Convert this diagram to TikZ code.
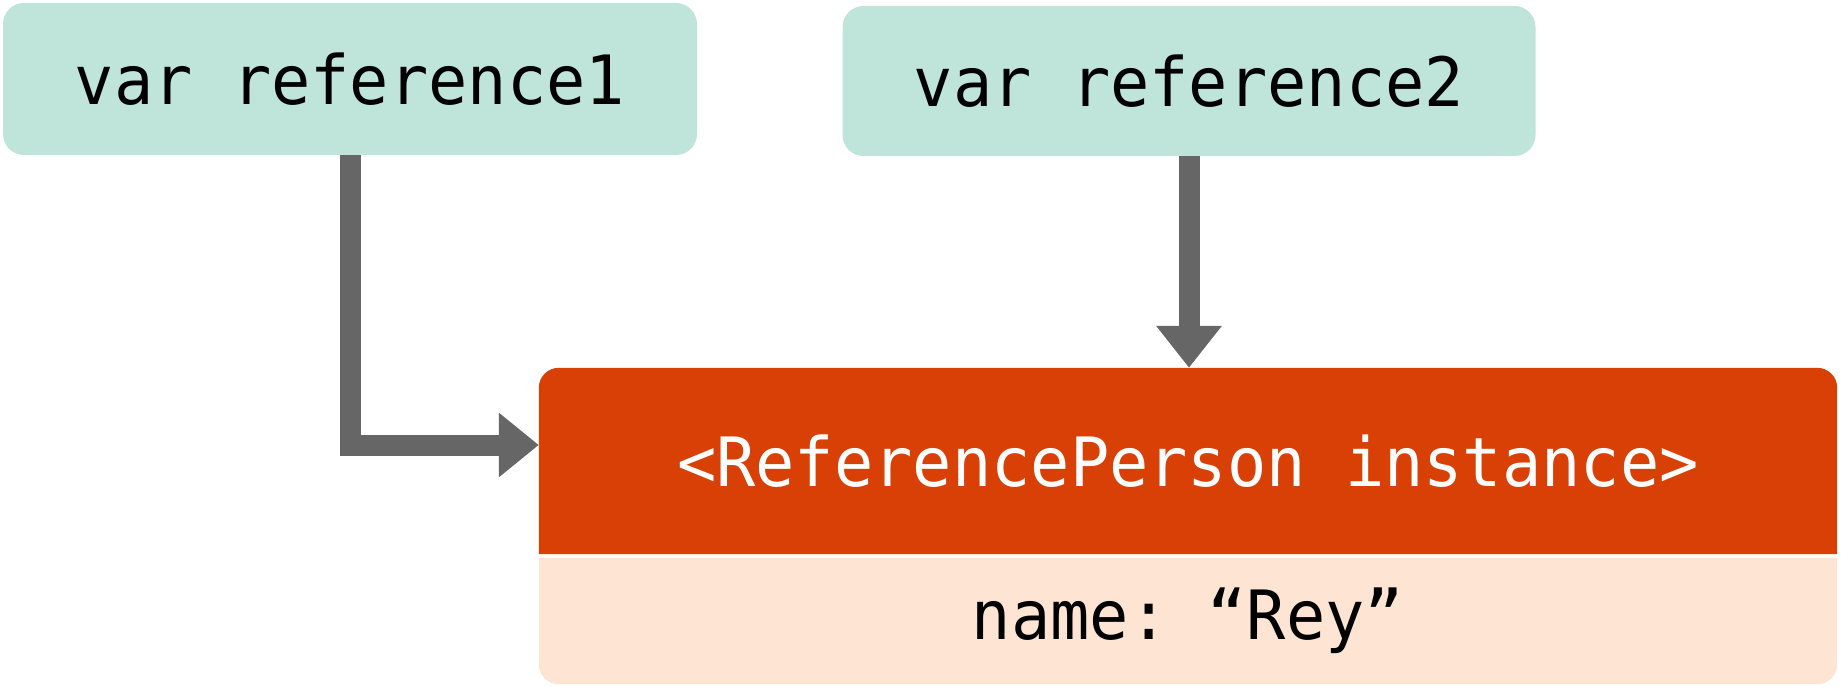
\documentclass[tikz,border=0pt]{standalone}
\usepackage{fontspec}
\setmonofont[FakeStretch=0.96]{DejaVu Sans Mono}
\usetikzlibrary{arrows.meta,backgrounds}
\definecolor{tealbox}{HTML}{BFE4DA}
\definecolor{hdrred}{HTML}{D84006}
\definecolor{peach}{HTML}{FEE4D3}
\definecolor{arrgray}{HTML}{666666}
\begin{document}
\begin{tikzpicture}[x=1pt,y=-1pt,
  codetext/.style={font=\ttfamily\fontsize{68}{80}\selectfont},
  varbox/.style={codetext,fill=tealbox,rounded corners=21pt,inner sep=0pt,text=black},
  plainbox/.style={codetext,inner sep=0pt},
  conn/.style={draw=arrgray,line width=21pt,-{Triangle[length=40pt,width=62pt]},arrgray}
]
\useasboundingbox (0,0) rectangle (1842,687);
\node[varbox,minimum width=694pt,minimum height=152pt] (r1) at (350,79) {var reference1};
\node[varbox,minimum width=693pt,minimum height=150pt] (r2) at (1189,81) {var reference2};
\node[plainbox,text=white,minimum width=1298pt,minimum height=186pt] (inst) at (1188,461) {<ReferencePerson instance>};
\node[plainbox,text=black,minimum width=1298pt,minimum height=126pt] (nm) at (1188,621) {name: “Rey”};
\begin{scope}[on background layer]
  \fill[hdrred] (inst.south west) [rounded corners=20pt] -- (inst.north west) -- (inst.north east) [sharp corners] -- (inst.south east) -- cycle;
  \fill[peach] (nm.north west) [rounded corners=20pt] -- (nm.south west) -- (nm.south east) [sharp corners] -- (nm.north east) -- cycle;
\end{scope}
\draw[conn] (r1.south) |- ([yshift=16pt]inst.west);
\draw[conn,-{Triangle[length=42pt,width=63pt]}] (r2.south) -- (inst.north -| r2.south);
\end{tikzpicture}
\end{document}
